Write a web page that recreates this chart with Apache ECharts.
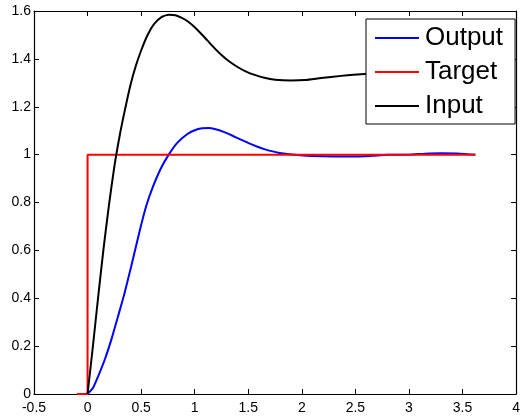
<!DOCTYPE html>
<html>
<head>
<meta charset="utf-8">
<script src="https://cdn.jsdelivr.net/npm/echarts@6/dist/echarts.min.js"></script>
<style>
html,body{margin:0;padding:0;background:#fff;}
#chart{width:523px;height:417px;}
</style>
</head>
<body>
<div id="chart"></div>
<script>
// ---- data ----
var seriesNames = ['Output', 'Target', 'Input'];
var xTicks = { min: -0.5, max: 4, interval: 0.5 };
var yTicks = { min: 0, max: 1.6, interval: 0.2 };

var outputData = [
  [0,0],[0.05,0.025],[0.098,0.073],[0.16,0.143],[0.222,0.227],[0.284,0.324],
  [0.345,0.421],[0.407,0.533],[0.484,0.677],[0.546,0.783],[0.607,0.862],
  [0.685,0.943],[0.762,1.003],[0.839,1.05],[0.932,1.086],[1.0,1.102],
  [1.07,1.110],[1.13,1.111],[1.195,1.106],[1.27,1.095],[1.348,1.08],
  [1.425,1.064],[1.503,1.048],[1.58,1.034],[1.657,1.022],[1.78,1.008],
  [1.935,0.999],[2.09,0.994],[2.3,0.992],[2.49,0.992],[2.65,0.995],
  [2.8,0.999],[3.0,1.0],[3.15,1.004],[3.3,1.006],[3.45,1.005],[3.55,1.002],[3.62,1.0]
];
var targetData = [[-0.1,0],[0,0],[0,1],[3.62,1]];
var inputData = [
  [0,0],[0.05,0.2],[0.1,0.41],[0.15,0.61],[0.2,0.79],[0.25,0.95],
  [0.3,1.08],[0.35,1.19],[0.4,1.29],[0.45,1.37],[0.5,1.435],[0.56,1.5],
  [0.62,1.545],[0.69,1.574],[0.76,1.584],[0.82,1.582],[0.88,1.571],
  [0.94,1.555],[1.0,1.532],[1.06,1.505],[1.12,1.476],[1.18,1.447],
  [1.25,1.416],[1.32,1.39],[1.4,1.366],[1.48,1.347],[1.56,1.333],
  [1.65,1.321],[1.75,1.313],[1.9,1.310],[2.03,1.312],[2.18,1.320],
  [2.367,1.329],[2.55,1.336],[2.8,1.34],[3.1,1.34],[3.4,1.338],[3.62,1.337]
];

var chart = echarts.init(document.getElementById('chart'), null, {renderer:'canvas'});
var font = 'Liberation Sans, Arial, sans-serif';
function axisCommon() {
  return {
    axisLine: { show: true, onZero: false, lineStyle: { color: '#000', width: 1.2 } },
    axisTick: { show: true, inside: true, length: 5, lineStyle: { color: '#000', width: 1 } },
    splitLine: { show: false }
  };
}
chart.setOption({
  animation: false,
  backgroundColor: '#fff',
  grid: { left: 34, right: 4, top: 11, bottom: 23, containLabel: false },
  legend: {
    orient: 'vertical',
    left: 366, top: 19,
    z: 20,
    padding: [6, 12, 5, 9],
    itemGap: 8,
    itemWidth: 44, itemHeight: 26,
    backgroundColor: '#fff',
    borderColor: '#000', borderWidth: 1,
    textStyle: { fontFamily: font, fontSize: 26, lineHeight: 26, color: '#000', padding: [0,0,0,1] },
    data: seriesNames.map(function(n){ return { name: n, icon: 'path://M0,0 L44,0 L44,2.2 L0,2.2 Z' }; })
  },
  xAxis: [
    Object.assign({ type: 'value', position: 'bottom', min: xTicks.min, max: xTicks.max, interval: xTicks.interval,
      axisLabel: { fontFamily: font, fontSize: 14, color: '#000', margin: 7 } }, axisCommon()),
    Object.assign({ type: 'value', position: 'top', min: xTicks.min, max: xTicks.max, interval: xTicks.interval,
      axisLabel: { show: false } }, axisCommon())
  ],
  yAxis: [
    Object.assign({ type: 'value', position: 'left', min: yTicks.min, max: yTicks.max, interval: yTicks.interval,
      axisLabel: { fontFamily: font, fontSize: 14, color: '#000', margin: 3 } }, axisCommon()),
    Object.assign({ type: 'value', position: 'right', min: yTicks.min, max: yTicks.max, interval: yTicks.interval,
      axisLabel: { show: false } }, axisCommon())
  ],
  series: [
    { name: seriesNames[0], type: 'line', data: outputData, showSymbol: false, smooth: 0.2,
      lineStyle: { color: '#0000ff', width: 2 }, itemStyle: { color: '#0000ff' }, z: 2 },
    { name: seriesNames[1], type: 'line', data: targetData, showSymbol: false,
      lineStyle: { color: '#ff0000', width: 2 }, itemStyle: { color: '#ff0000' }, z: 3 },
    { name: seriesNames[2], type: 'line', data: inputData, showSymbol: false, smooth: 0.2,
      lineStyle: { color: '#000000', width: 2 }, itemStyle: { color: '#000000' }, z: 4 }
  ]
});
</script>
</body>
</html>
